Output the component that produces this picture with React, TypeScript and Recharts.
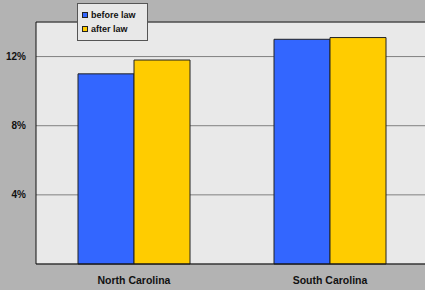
import { BarChart, Bar, XAxis, YAxis, CartesianGrid, ReferenceLine } from "recharts";

const states = ["North Carolina", "South Carolina"];
const beforeLaw = [11.0, 13.0];
const afterLaw = [11.8, 13.1];
const yTicks = [4, 8, 12];

const FONT = "Arial, 'Liberation Sans', sans-serif";

const data = states.map((s, i) => ({
  state: s,
  before: beforeLaw[i],
  after: afterLaw[i],
}));

// legend drawn as an overlay so it doesn't steal space from the plot
function LegendBox() {
  const items = [
    { label: "before law", color: "#3366ff" },
    { label: "after law", color: "#ffcc00" },
  ];
  return (
    <div
      style={{
        position: "absolute",
        left: 77,
        top: 3,
        width: 69,
        height: 32,
        border: "1px solid #555",
        background: "#e8e8e8",
        paddingTop: 4,
      }}
    >
      {items.map((it) => (
        <div
          key={it.label}
          style={{
            display: "flex",
            alignItems: "center",
            height: 14,
            paddingLeft: 4,
            fontFamily: FONT,
            fontWeight: "bold",
            fontSize: 9,
            color: "#111",
          }}
        >
          <span
            style={{
              display: "inline-block",
              width: 4,
              height: 4,
              background: it.color,
              border: "1px solid #222",
              marginRight: 3,
            }}
          />
          {it.label}
        </div>
      ))}
    </div>
  );
}

export default function App() {
  return (
    <div
      style={{
        position: "absolute",
        left: 0,
        top: 0,
        width: 425,
        height: 290,
        overflow: "hidden",
        background: "#b3b3b3",
      }}
    >
      <BarChart
        width={428}
        height={290}
        data={data}
        margin={{ top: 22, right: 0, bottom: 0, left: 0 }}
        barCategoryGap={42}
        barGap={0}
      >
        <CartesianGrid vertical={false} stroke="#808080" fill="#e9e9e9" fillOpacity={1} />
        <XAxis
          dataKey="state"
          height={26}
          axisLine={{ stroke: "#111" }}
          tickLine={false}
          tickSize={6}
          tickMargin={7}
          tick={{ fill: "#111", fontSize: 10.5, fontWeight: "bold", fontFamily: FONT }}
        />
        <YAxis
          width={36}
          domain={[0, 14]}
          ticks={yTicks}
          tickFormatter={(v: number) => `${v}%`}
          axisLine={{ stroke: "#111" }}
          tickLine={false}
          tickSize={6}
          tickMargin={4}
          tick={{ fill: "#111", fontSize: 10, fontWeight: "bold", fontFamily: FONT }}
        />
        <ReferenceLine y={14} stroke="#333" />
        <Bar dataKey="before" name="before law" fill="#3366ff" stroke="#222" isAnimationActive={false} />
        <Bar dataKey="after" name="after law" fill="#ffcc00" stroke="#222" isAnimationActive={false} />
      </BarChart>
      <LegendBox />
    </div>
  );
}
